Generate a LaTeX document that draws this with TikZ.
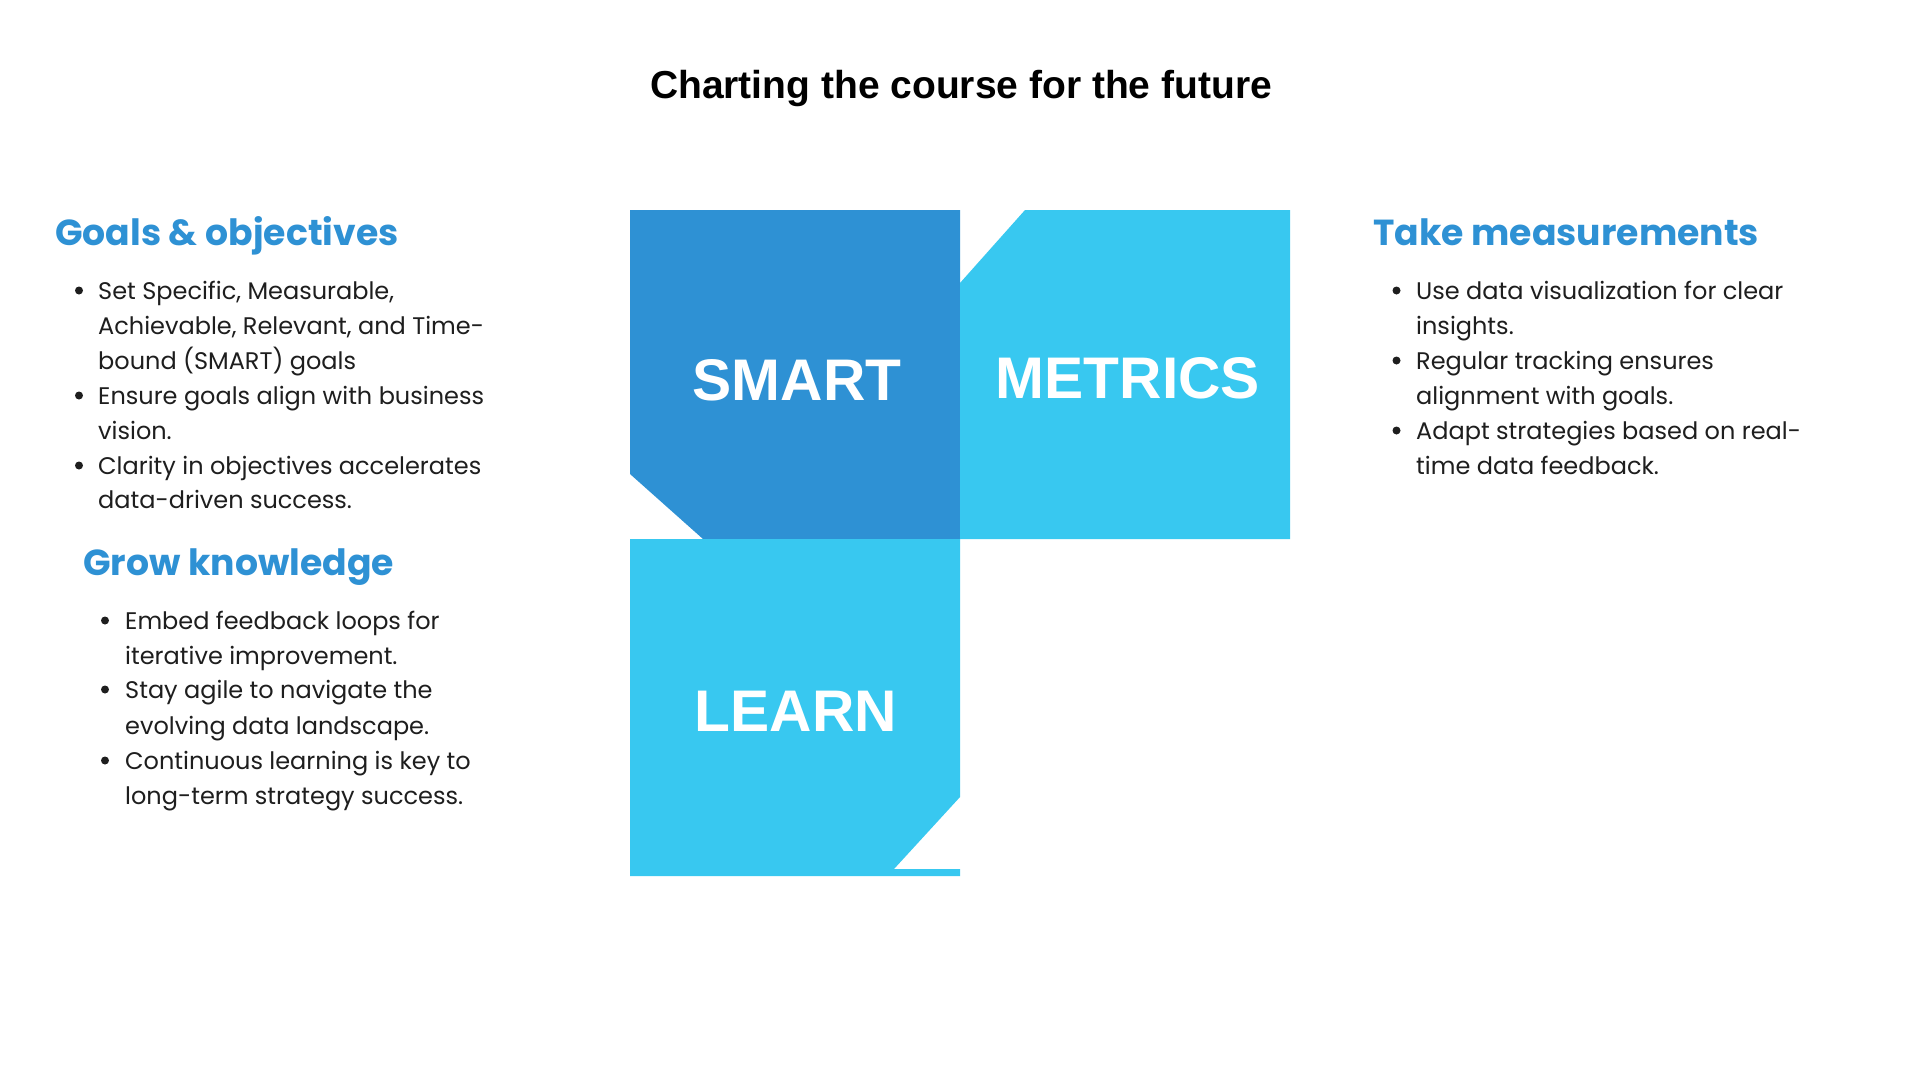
\documentclass[tikz,border=0pt]{standalone}
\usepackage{fontspec}
\setmainfont{Poppins}
\newfontfamily\bigfont{Liberation Sans}
\definecolor{deepblue}{HTML}{2E91D4}
\definecolor{skyblue}{HTML}{38C8F0}
\definecolor{inkdark}{HTML}{1E1E1E}
\tikzset{
  line/.style={anchor=base west, inner sep=0pt, text=inkdark, font=\fontsize{24}{28}\selectfont},
  head/.style={anchor=base west, inner sep=0pt, text=deepblue, font=\fontsize{36.2}{42}\selectfont\bfseries},
  bul/.style={circle, fill=inkdark, inner sep=0pt, minimum size=8pt},
  big/.style={anchor=base, inner sep=0pt, text=white, font=\bigfont\fontsize{58.7}{64}\selectfont\bfseries},
}
\begin{document}
\begin{tikzpicture}[x=1pt,y=-1pt]
\fill[white] (0,0) rectangle (1920,1080);
\useasboundingbox (0,0) rectangle (1920,1080);

% title
\node[anchor=base, inner sep=0pt, text=black, font=\bigfont\fontsize{39}{44}\selectfont\bfseries] (title) at (961,98) {Charting the course for the future};

% squares
\fill[deepblue] (630,210) -- (960,210) -- (960,539) -- (703,539) -- (630,474) -- cycle;
\fill[skyblue] (1025,210) -- (1290,210) -- (1290,539) -- (960,539) -- (960,283) -- cycle;
\fill[skyblue] (630,539) -- (960,539) -- (960,797) -- (894,869) -- (960,869) -- (960,876) -- (630,876) -- cycle;

\node[big] (smart) at (797,400) {SMART};
\node[big] (metrics) at (1128,398) {METRICS};
\node[big] (learn) at (796,731) {LEARN};

% Goals & objectives
\node[head] (h1) at (55,245) {Goals \& objectives};
\node[bul] (b11) at (79,290.5) {};
\node[line] (l11) at (98,299) {Set Specific, Measurable,};
\node[line] (l12) at (98,334) {Achievable, Relevant, and Time-};
\node[line] (l13) at (98,369) {bound (SMART) goals};
\node[bul] (b12) at (79,395.5) {};
\node[line] (l14) at (98,404) {Ensure goals align with business};
\node[line] (l15) at (98,439) {vision.};
\node[bul] (b13) at (79,465.5) {};
\node[line] (l16) at (98,474) {Clarity in objectives accelerates};
\node[line] (l17) at (98,508) {data-driven success.};

% Grow knowledge
\node[head] (h2) at (83,575) {Grow knowledge};
\node[bul] (b21) at (105,620.5) {};
\node[line] (l21) at (125,629) {Embed feedback loops for};
\node[line] (l22) at (125,664) {iterative improvement.};
\node[bul] (b22) at (105,689.5) {};
\node[line] (l23) at (125,698) {Stay agile to navigate the};
\node[line] (l24) at (125,734) {evolving data landscape.};
\node[bul] (b23) at (105,760.5) {};
\node[line] (l25) at (125,769) {Continuous learning is key to};
\node[line] (l26) at (125,804) {long-term strategy success.};

% Take measurements
\node[head] (h3) at (1373,245) {Take measurements};
\node[bul] (b31) at (1396.5,290.5) {};
\node[line] (l31) at (1416,299) {Use data visualization for clear};
\node[line] (l32) at (1416,334) {insights.};
\node[bul] (b32) at (1396.5,360.5) {};
\node[line] (l33) at (1416,369) {Regular tracking ensures};
\node[line] (l34) at (1416,404) {alignment with goals.};
\node[bul] (b33) at (1396.5,430.5) {};
\node[line] (l35) at (1416,439) {Adapt strategies based on real-};
\node[line] (l36) at (1416,474) {time data feedback.};
\end{tikzpicture}
\end{document}
